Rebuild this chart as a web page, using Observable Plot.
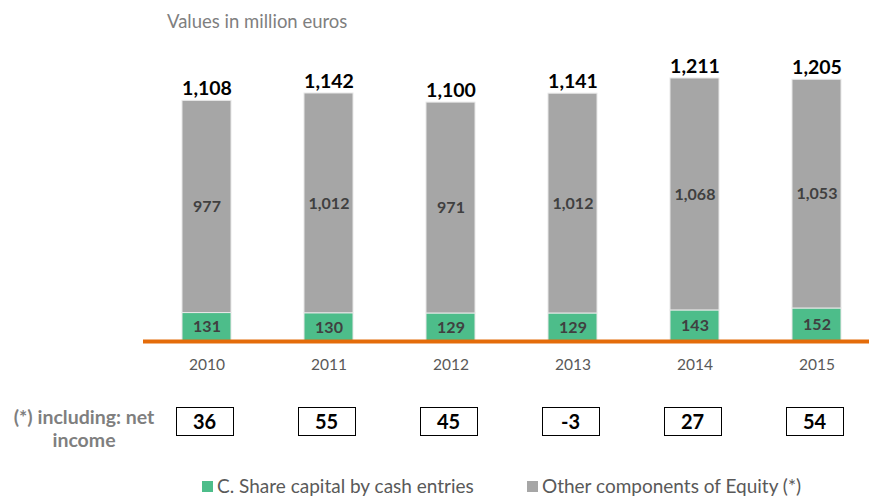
<!DOCTYPE html>
<html>
<head>
<meta charset="utf-8">
<script src="https://cdn.jsdelivr.net/npm/d3@7"></script>
<script src="https://cdn.jsdelivr.net/npm/@observablehq/plot@0.6"></script>
<style>
  html, body { margin: 0; padding: 0; background: #fff; }
  #wrap { position: relative; width: 869px; height: 501px; font-family: Lato, "Open Sans", sans-serif; overflow: hidden; }
  #wrap svg { position: absolute; left: 0; top: 0; }
  .title { position: absolute; left: 167px; top: 10px; font-size: 18.5px; color: #7f7f7f; }
  .nilabel { position: absolute; left: 0px; width: 168px; top: 405px; font-size: 19.5px; font-weight: bold; color: #7f7f7f; text-align: center; line-height: 23px; }
  .box { position: absolute; top: 407px; width: 56px; height: 27px; border: 1.5px solid #000; box-sizing: content-box; font-size: 20px; font-weight: bold; color: #000; text-align: center; line-height: 27px; }
  .legend { position: absolute; top: 475px; font-size: 19px; line-height: 22px; color: #595959; display: flex; align-items: center; white-space: nowrap; }
  .legend .sw { width: 11px; height: 11px; margin-right: 4px; display: inline-block; }
</style>
</head>
<body>
<div id="wrap"></div>
<script>
const years = ["2010", "2011", "2012", "2013", "2014", "2015"];
const shareCapital = [131, 130, 129, 129, 143, 152];
const otherEquity = [977, 1012, 971, 1012, 1068, 1053];
const totals = [1108, 1142, 1100, 1141, 1211, 1205];
const netIncome = [36, 55, 45, -3, 27, 54];
const seriesNames = ["C. Share capital by cash entries", "Other components of Equity (*)"];
const seriesColors = ["#4dbd8a", "#a6a6a6"];

const rows = [];
years.forEach((y, i) => {
  rows.push({year: y, series: seriesNames[0], value: shareCapital[i]});
  rows.push({year: y, series: seriesNames[1], value: otherEquity[i]});
});
const totalRows = years.map((y, i) => ({year: y, total: totals[i]}));

const fmt = d3.format(",");

const plot = Plot.plot({
  width: 869,
  height: 380,
  marginLeft: 143,
  marginRight: 0,
  marginTop: 78,
  marginBottom: 39,
  style: {fontFamily: "Lato, 'Open Sans', sans-serif", background: "transparent"},
  x: {domain: years, paddingInner: 0.6, paddingOuter: 0.26, align: 0.58, label: null},
  y: {domain: [0, d3.max(totals)], axis: null},
  color: {domain: seriesNames, range: seriesColors},
  marks: [
    Plot.barY(rows, Plot.stackY({x: "year", y: "value", fill: "series", order: seriesNames, stroke: "#e8e8e8", strokeWidth: 1})),
    Plot.text(rows, Plot.stackY({x: "year", y: "value", z: "series", order: seriesNames, text: d => fmt(d.value), fill: "#404040", fontSize: 16, fontWeight: "bold"})),
    Plot.text(totalRows, {x: "year", y: "total", text: d => fmt(d.total), dy: -12, fontSize: 19.5, fontWeight: "bold", fill: "#000"}),
    Plot.ruleY([0], {stroke: "#e46c0a", strokeWidth: 4}),
    Plot.axisX({tickSize: 0, tickPadding: 17, fontSize: 15.5, color: "#595959", label: null})
  ]
});

const wrap = document.getElementById("wrap");
wrap.appendChild(plot);

const title = document.createElement("div");
title.className = "title";
title.textContent = "Values in million euros";
wrap.appendChild(title);

const nil = document.createElement("div");
nil.className = "nilabel";
nil.innerHTML = "(*) including: net<br>income";
wrap.appendChild(nil);

const xs = plot.scale("x");
years.forEach((y, i) => {
  const cx = xs.apply(y) + xs.bandwidth / 2;
  const b = document.createElement("div");
  b.className = "box";
  b.style.left = (cx - 31) + "px";
  b.textContent = String(netIncome[i]);
  wrap.appendChild(b);
});

const legendX = [202, 527];
seriesNames.forEach((name, i) => {
  const l = document.createElement("div");
  l.className = "legend";
  l.style.left = legendX[i] + "px";
  l.innerHTML = `<span class="sw" style="background:${seriesColors[i]}"></span><span>${name}</span>`;
  wrap.appendChild(l);
});
</script>
</body>
</html>
